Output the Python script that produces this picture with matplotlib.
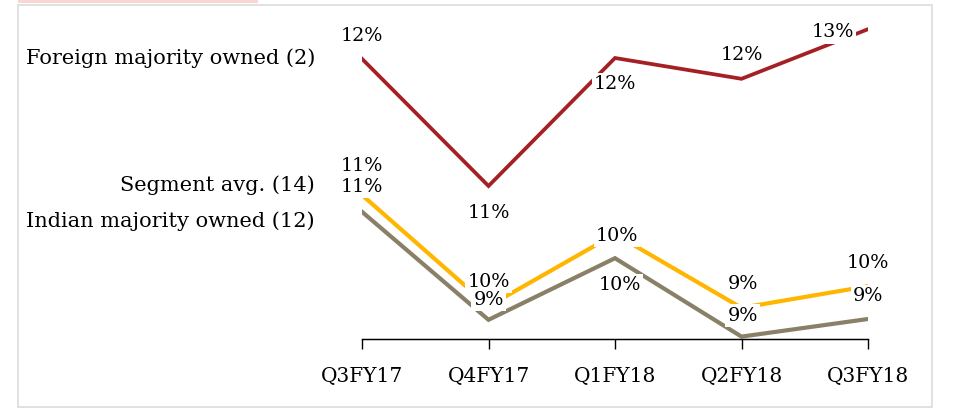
import matplotlib
matplotlib.use("Agg")
import matplotlib.pyplot as plt
from matplotlib.patches import Rectangle

categories = ["Q3FY17", "Q4FY17", "Q1FY18", "Q2FY18", "Q3FY18"]
foreign = [12.39, 10.80, 12.40, 12.14, 12.76]
segment = [10.90, 9.51, 10.41, 9.49, 9.76]
indian = [10.69, 9.34, 10.11, 9.13, 9.35]
series_names = ["Foreign majority owned (2)", "Segment avg. (14)", "Indian majority owned (12)"]

C_FOREIGN = "#A52024"
C_SEGMENT = "#FFB600"
C_INDIAN = "#8A8068"
FONT = "DejaVu Serif"
FS_LAB = 13.8
FS_TICK = 14.5
FS_NAME = 15

W, H = 955, 416
fig = plt.figure(figsize=(W / 100, H / 100), dpi=100)

# outer frame and pink header strip
fig.patches.append(Rectangle((18 / W, 1 - 407 / H), (932 - 18) / W, (407 - 5) / H,
                             transform=fig.transFigure, fill=False,
                             edgecolor="#DCDCDC", linewidth=1.2))
fig.patches.append(Rectangle((18 / W, 1 - 3 / H), (258 - 18) / W, 3 / H,
                             transform=fig.transFigure, facecolor="#F9D5D3",
                             edgecolor="none"))

left, right, top, bottom = 362, 868, 20, 339
ax = fig.add_axes([left / W, 1 - bottom / H, (right - left) / W, (bottom - top) / H])
ax2 = ax.twinx()

x = list(range(len(categories)))
ax.set_xlim(0, len(categories) - 1)
ax.set_ylim(9.1, 9.1 + (bottom - top) / 80)
ax2.set_ylim(10.8 - (bottom - 186) / 80, 10.8 + (186 - top) / 80)

ax2.plot(x, foreign, color=C_FOREIGN, lw=2.7, solid_joinstyle="miter", zorder=2)
ax.plot(x, segment, color=C_SEGMENT, lw=3.0, solid_joinstyle="miter", zorder=2)
ax.plot(x, indian, color=C_INDIAN, lw=3.0, solid_joinstyle="miter", zorder=2)

for a in (ax, ax2):
    for s in ("top", "right", "left"):
        a.spines[s].set_visible(False)
    a.set_yticks([])
    a.patch.set_visible(False)
ax.spines["bottom"].set_color("#000000")
ax.spines["bottom"].set_linewidth(1.0)
ax.set_xticks(x)
ax.set_xticklabels(categories, fontfamily=FONT, fontsize=FS_TICK)
ax.tick_params(axis="x", direction="out", length=7, width=1.0, pad=13)

px = 0.72  # points per pixel
foreign_off = [(0, 23), (0, -27), (0, -26), (0, 24), (-35, -3)]
segment_off = [(0, 29), (0, 24), (2, -2), (1, 24), (0, 23)]
indian_off = [(0, 25), (0, 20), (5, -27), (1, 21), (0, 23)]

bbox = dict(boxstyle="square,pad=0.12", facecolor="white", edgecolor="none")
for a, vals, offs in ((ax2, foreign, foreign_off), (ax, segment, segment_off), (ax, indian, indian_off)):
    for i, (v, (dx, dy)) in enumerate(zip(vals, offs)):
        a.annotate(f"{round(v):d}%", xy=(i, v), xytext=(dx * px, dy * px),
                   textcoords="offset points", ha="center", va="center",
                   fontfamily=FONT, fontsize=FS_LAB, bbox=bbox, zorder=5,
                   annotation_clip=False)

# series names on the left
name_pos = [(ax2, foreign[0], 1), (ax, segment[0], 10), (ax, indian[0], -9)]
for name, (a, v, dy) in zip(series_names, name_pos):
    a.annotate(name, xy=(0, v), xytext=(-47 * px, dy * px), textcoords="offset points",
               ha="right", va="center", fontfamily=FONT, fontsize=FS_NAME,
               annotation_clip=False)

fig.savefig("out.png", dpi=100)
